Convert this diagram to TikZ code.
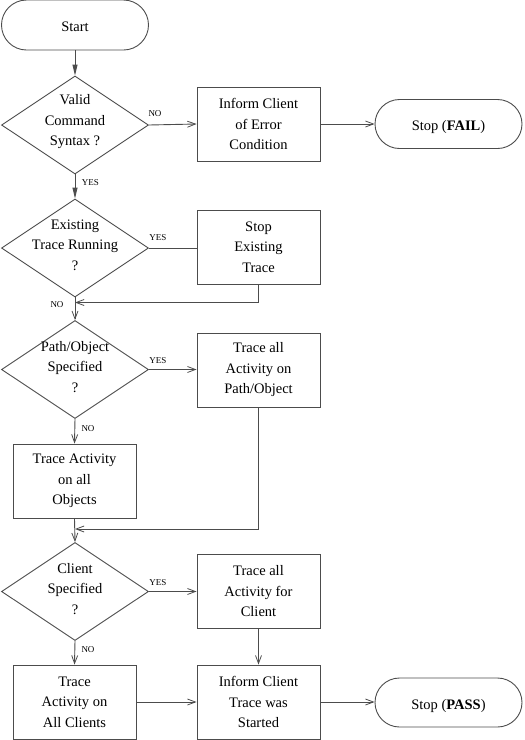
\documentclass[tikz,border=0pt]{standalone}
\usepackage{fontspec}
\setmainfont{Liberation Serif}
\usetikzlibrary{shapes.geometric,arrows.meta}
\tikzset{
  ln/.style={draw=black!70, line width=0.9pt},
  opar/.style={ln, -{Straight Barb[length=8pt,width=6pt,line width=0.8pt]}},
  fiar/.style={ln, -{Triangle[length=11pt,width=5pt]}},
  term/.style={ln, rectangle, rounded corners=24.5pt, minimum width=147pt, minimum height=49pt, inner sep=0pt, text height=16pt, text depth=3pt, font=\fontsize{14.5}{20.5}\selectfont},
  procbox/.style={ln, rectangle, minimum width=123pt, minimum height=74pt, inner sep=0pt, align=center, font=\fontsize{14.5}{20.5}\selectfont},
  decis/.style={ln, diamond, minimum width=147pt, minimum height=98pt, inner sep=0pt},
  dtext/.style={align=center, font=\fontsize{14.5}{20.5}\selectfont},
  lbl/.style={font=\fontsize{9}{10}\selectfont, inner sep=0pt}
}
\begin{document}
\begin{tikzpicture}[x=1pt,y=-1pt]
\useasboundingbox (0,0) rectangle (525,740);
% nodes
\node[term, minimum height=50pt, rounded corners=25pt] (start) at (75,25) {Start};
\node[decis] (d1) at (75,125) {};
\node[dtext] (d1t) at (75,122) {Valid\\Command\\Syntax ?};
\node[procbox] (b1) at (258.5,124) {Inform Client\\of Error\\Condition};
\node[term] (fail) at (448.5,124) {Stop (\textbf{FAIL})};
\node[decis] (d2) at (75,248) {};
\node[dtext] (d2t) at (75,245) {Existing\\Trace Running\\?};
\node[procbox] (b2) at (258.5,247) {Stop\\Existing\\Trace};
\node[decis] (d3) at (75,369.5) {};
\node[dtext] (d3t) at (75,367) {Path/Object\\Specified\\?};
\node[procbox] (b3) at (258.5,370) {Trace all\\Activity on\\Path/Object};
\node[procbox] (b4) at (74.5,481) {Trace Activity\\on all\\Objects};
\node[decis] (d4) at (75,591.5) {};
\node[dtext] (d4t) at (75,589) {Client\\Specified\\?};
\node[procbox] (b5) at (258.5,591.5) {Trace all\\Activity for\\Client};
\node[procbox] (b6) at (74.5,702) {Trace\\Activity on\\All Clients};
\node[procbox] (b7) at (258.5,702) {Inform Client\\Trace was\\Started};
\node[term] (pass) at (448.5,702.5) {Stop (\textbf{PASS})};
% labels
\node[lbl] (l1) at (155,114) {NO};
\node[lbl] (l2) at (90.5,183) {YES};
\node[lbl] (l3) at (158,238) {YES};
\node[lbl] (l4) at (57,305) {NO};
\node[lbl] (l5) at (158,361) {YES};
\node[lbl] (l6) at (88,428.5) {NO};
\node[lbl] (l7) at (158,583) {YES};
\node[lbl] (l8) at (88,649.5) {NO};
% junctions
\coordinate (j1) at (75,302.5);
\coordinate (j2) at (75,529);
% connectors
\draw[fiar] (start.south) -- (d1.north);
\draw[opar] (d1.east) -- (b1.west);
\draw[opar] (b1.east) -- (fail.west);
\draw[fiar] (d1.south) -- (d2.north);
\draw[ln] (d2.east) -- (b2.west |- d2.east);
\draw[opar] (b2.south) |- (j1);
\draw[opar] (d2.south) -- (d3.north);
\draw[opar] (d3.east) -- (b3.west |- d3.east);
\draw[opar] (d3.south) -- (b4.north);
\draw[opar] (b4.south) -- (d4.north);
\draw[opar] (b3.south) |- (j2);
\draw[opar] (d4.east) -- (b5.west |- d4.east);
\draw[opar] (d4.south) -- (b6.north);
\draw[opar] (b5.south) -- (b7.north);
\draw[opar] (b6.east) -- (b7.west);
\draw[opar] (b7.east) -- (pass.west |- b7.east);
\end{tikzpicture}
\end{document}
